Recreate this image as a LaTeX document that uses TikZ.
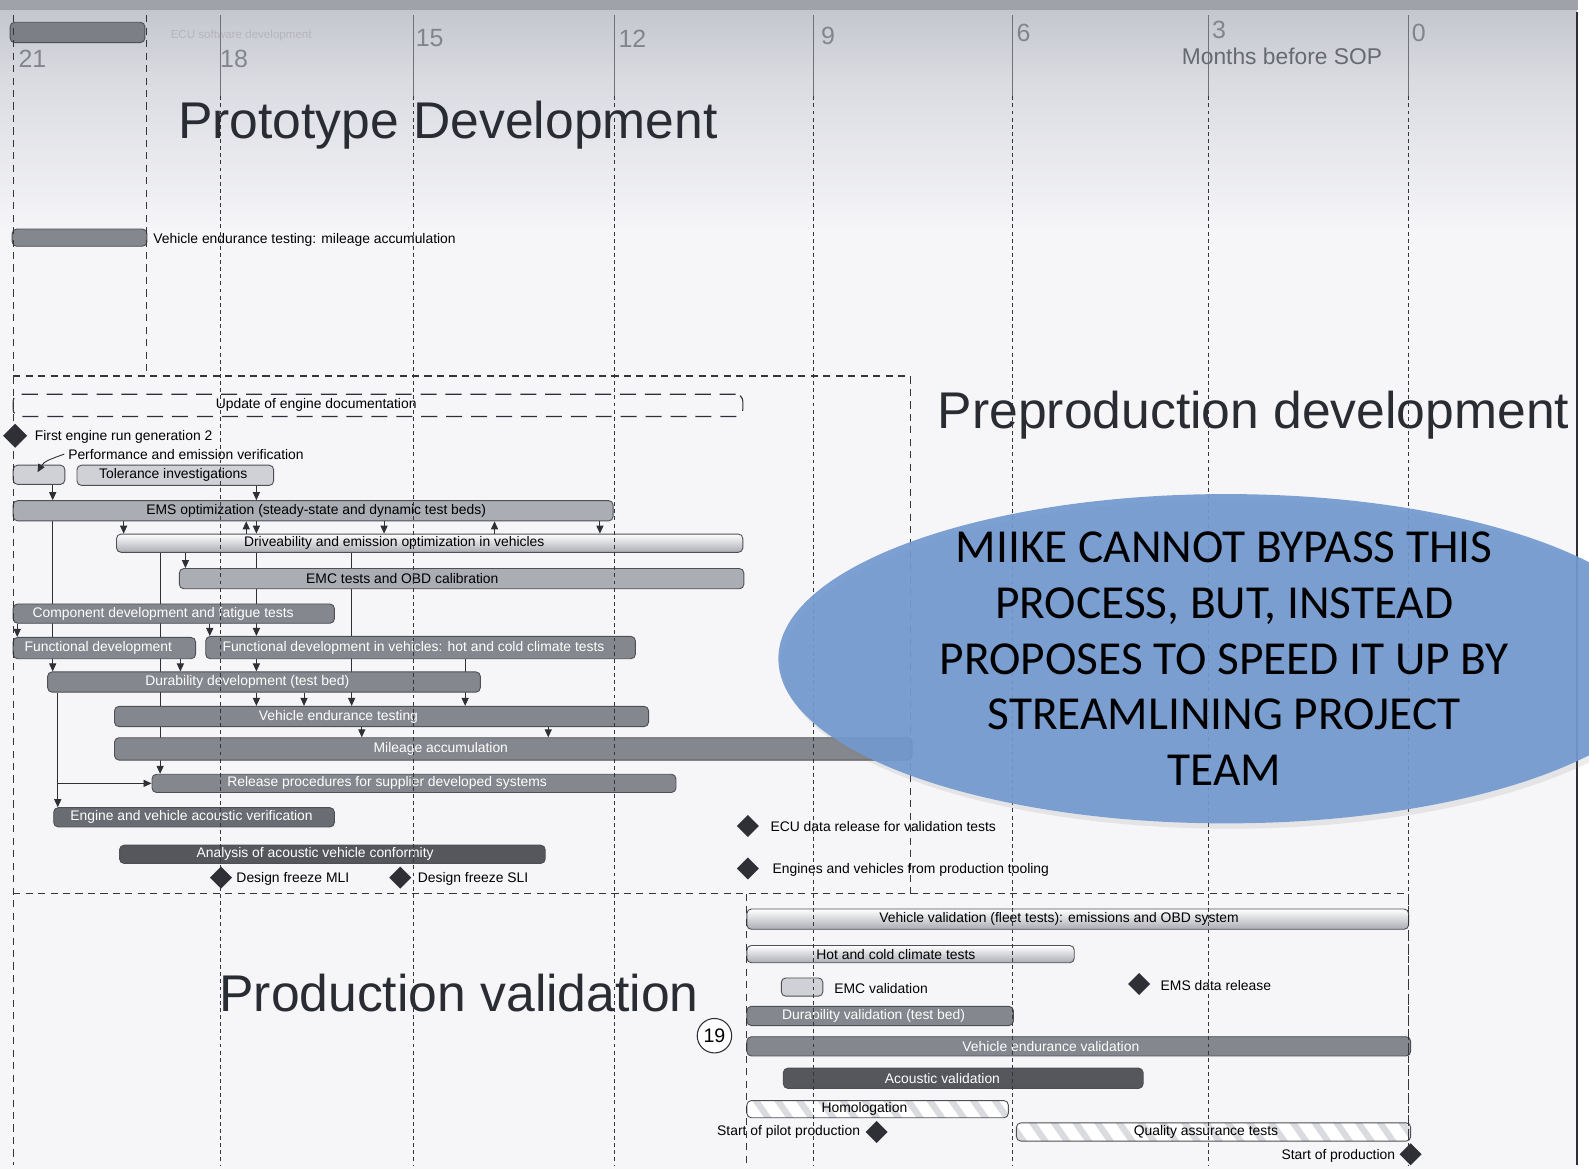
\documentclass[tikz,border=0pt]{standalone}
\usepackage{fontspec}
\setmainfont{Liberation Sans}
\newfontfamily\calloutfont{Carlito}
\usepackage{tikz}
\usetikzlibrary{shapes.geometric,arrows.meta,patterns.meta,shadows}
\definecolor{inkgray}{HTML}{2E3036}
\definecolor{gridgray}{HTML}{34363C}
\definecolor{pagewhite}{HTML}{F6F6F9}
\definecolor{headgray}{HTML}{C4C6CE}
\definecolor{topgray}{HTML}{A0A2AA}
\definecolor{numgray}{HTML}{82858D}
\definecolor{titlegray}{HTML}{2A2C33}
\definecolor{lightbar}{HTML}{D0D1D6}
\definecolor{midbar}{HTML}{ABADB4}
\definecolor{darkbar}{HTML}{85878E}
\definecolor{deepbar}{HTML}{6A6C73}
\definecolor{blackbar}{HTML}{55575D}
\definecolor{hatchgray}{HTML}{DADBDF}
\definecolor{noteblue}{HTML}{7399CF}

\pgfdeclarelayer{back}
\pgfdeclarelayer{links}
\pgfdeclarelayer{grid}
\pgfdeclarelayer{top}
\pgfsetlayers{back,links,main,grid,top}

% one bar of the plan: style, name, x from, x to, y from, y to, label x, label colour, label
\newcommand{\ganttbar}[9]{%
  \pgfmathsetmacro{\barwd}{(#4-#3)*0.02}%
  \pgfmathsetmacro{\barht}{(#6-#5)*0.02}%
  \node[#1, minimum width=\barwd cm, minimum height=\barht cm] (#2) at ({(#3+#4)/2},{(#5+#6)/2}) {};%
  \node[barlbl, text=#8] (#2-t) at (#7,{(#5+#6)/2}) {#9};%
}

\tikzset{
  barbase/.style={rounded corners=2.5pt, draw=inkgray!85, line width=0.5pt, inner sep=0pt},
  ltbar/.style={barbase, fill=lightbar},
  mdbar/.style={barbase, fill=midbar},
  dkbar/.style={barbase, fill=darkbar},
  deepbar/.style={barbase, fill=deepbar},
  blkbar/.style={barbase, fill=blackbar},
  gradbar/.style={barbase, top color=white, bottom color=midbar},
  hatchbar/.style={barbase, preaction={fill=white}, pattern={Lines[angle=-55,distance=10pt,line width=3.5pt]}, pattern color=hatchgray},
  docbox/.style={rounded corners=4pt, draw=inkgray, line width=0.6pt, dash pattern=on 9pt off 5pt, inner sep=0pt},
  barlbl/.style={font=\fontsize{7.8}{9}\selectfont, inner sep=0pt},
  lbl/.style={font=\fontsize{7.8}{9}\selectfont, text=black, inner sep=0pt, yshift=-0.6pt},
  milestone/.style={diamond, fill=inkgray, inner sep=0pt, minimum width=0.44cm, minimum height=0.44cm},
  flow/.style={draw=inkgray, line width=0.5pt, -{Triangle[length=4.5pt,width=4pt]}},
  gridline/.style={gridgray, line width=0.45pt, dash pattern=on 2.2pt off 1.8pt},
  boxline/.style={gridgray, line width=0.6pt, dash pattern=on 4pt off 3pt},
  phasetitle/.style={font=\fontsize{29}{34}\selectfont, text=titlegray, inner sep=0pt},
  monthnum/.style={font=\fontsize{14}{16}\selectfont, text=numgray, inner sep=0pt},
  notetext/.style={font=\calloutfont\fontsize{26.6}{31.3}\selectfont, align=center, text=black, inner sep=0pt},
}

\begin{document}
\begin{tikzpicture}[x=0.02cm, y=-0.02cm]
\useasboundingbox (0,0) rectangle (1568,1154);

% page
\begin{pgfonlayer}{back}
\fill[pagewhite] (0,0) rectangle (1568,1154);
\shade[top color=headgray, bottom color=headgray!55!pagewhite] (0,8) rectangle (1556,80);
\shade[top color=headgray!55!pagewhite, bottom color=pagewhite] (0,80) rectangle (1556,230);
\fill[topgray] (0,0) rectangle (1568,10);
\fill[white] (1557,0) rectangle (1568,1154);
\fill[deepbar, fill opacity=0.8] (10,22) rectangle (143,42);
\draw[inkgray, line width=0.8pt] (1556,12) -- (1556,1150);
\end{pgfonlayer}

% months
\foreach \m/\mx/\my in {21/32/58, 18/231/58, 15/424/38, 12/624/38, 9/817/35, 6/1010/32, 3/1203/30, 0/1400/32}
  \node[monthnum] (m\m) at (\mx,\my) {\m};
\node[font=\fontsize{12.8}{15}\selectfont, text=numgray!80!black, inner sep=0pt] (sophead) at (1265,56) {Months before SOP};
\node[font=\fontsize{6.5}{8}\selectfont, text=numgray!60, inner sep=0pt] (ecusw) at (238,35) {ECU software development};

\node[phasetitle] (proto) at (442,123) {Prototype Development};
\node[phasetitle] (preprod) at (1237,410) {Preproduction development};
\node[phasetitle] (prodval) at (453,980) {Production validation};

% prototype
\ganttbar{dkbar}{vetop}{12}{145}{226}{243}{78}{black}{}
\node[lbl, anchor=west] (vetop-l) at (151,236) {Vehicle endurance testing: mileage accumulation};

% preproduction
\ganttbar{docbox}{docu}{13}{733}{389}{411}{312}{black}{Update of engine documentation}
\node[milestone, minimum width=0.48cm, minimum height=0.48cm] (fer) at (15,430) {};
\node[lbl, anchor=west] (fer-l) at (34,430) {First engine run generation 2};
\node[lbl, anchor=west] (perf-l) at (67,447) {Performance and emission verification};
\ganttbar{ltbar}{perfbox}{13}{64}{459}{478}{38}{black}{}
\ganttbar{ltbar}{tol}{76}{270}{459}{479}{171}{black}{Tolerance investigations}
\ganttbar{mdbar}{ems}{13}{605}{494}{514}{312}{black}{EMS optimization (steady-state and dynamic test beds)}
\ganttbar{gradbar}{drive}{115}{733}{527}{545}{389}{black}{Driveability and emission optimization in vehicles}
\ganttbar{mdbar}{emc}{177}{734}{561}{581}{397}{black}{EMC tests and OBD calibration}
\ganttbar{dkbar}{comp}{13}{330}{596}{615}{161}{white}{Component development and fatigue tests}
\ganttbar{dkbar}{fdev}{13}{193}{629}{650}{97}{white}{Functional development}
\ganttbar{dkbar}{fveh}{203}{627}{628}{650}{408}{white}{Functional development in vehicles: hot and cold climate tests}
\ganttbar{dkbar}{dura}{47}{474}{663}{683}{244}{white}{Durability development (test bed)}
\ganttbar{dkbar}{vend}{113}{640}{697}{717}{334}{white}{Vehicle endurance testing}
\ganttbar{dkbar}{mile}{113}{900}{728}{750}{435}{white}{Mileage accumulation}
\ganttbar{dkbar}{rel}{150}{667}{764}{782}{382}{white}{Release procedures for supplier developed systems}
\ganttbar{deepbar}{acver}{53}{330}{797}{816}{189}{white}{Engine and vehicle acoustic verification}
\ganttbar{blkbar}{acana}{118}{538}{834}{852}{311}{white}{Analysis of acoustic vehicle conformity}
\node[milestone] (dfm) at (218,866) {};
\node[lbl, anchor=west] (dfm-l) at (233,866) {Design freeze MLI};
\node[milestone] (dfs) at (395,866) {};
\node[lbl, anchor=west] (dfs-l) at (412,866) {Design freeze SLI};
\node[milestone] (ecu) at (738,815) {};
\node[lbl, anchor=west] (ecu-l) at (760,815) {ECU data release for validation tests};
\node[milestone] (eng) at (738,857) {};
\node[lbl, anchor=west] (eng-l) at (762,857) {Engines and vehicles from production tooling};

% production validation
\ganttbar{gradbar}{vval}{737}{1390}{897}{917}{1045}{black}{Vehicle validation (fleet tests): emissions and OBD system}
\ganttbar{gradbar}{hotc}{737}{1060}{933}{950}{884}{black}{Hot and cold climate tests}
\ganttbar{ltbar}{emcv}{771}{812}{965}{983}{791}{black}{}
\node[lbl, anchor=west] (emcv-l) at (823,974) {EMC validation};
\node[milestone] (emsd) at (1124,971) {};
\node[lbl, anchor=west] (emsd-l) at (1145,971) {EMS data release};
\ganttbar{dkbar}{durv}{737}{1000}{993}{1012}{862}{white}{Durability validation (test bed)}
\node[circle, draw=inkgray, line width=0.6pt, fill=white, minimum size=0.68cm, inner sep=0pt, font=\fontsize{11}{13}\selectfont] (nineteen) at (705,1022) {19};
\ganttbar{dkbar}{vendv}{737}{1392}{1023}{1042}{1037}{white}{Vehicle endurance validation}
\ganttbar{blkbar}{acv}{773}{1128}{1054}{1074}{930}{white}{Acoustic validation}
\ganttbar{hatchbar}{homol}{737}{995}{1086}{1103}{853}{black}{Homologation}
\node[milestone] (spp) at (865,1117) {};
\node[lbl, anchor=east] (spp-l) at (849,1116) {Start of pilot production};
\ganttbar{hatchbar}{qat}{1003}{1392}{1108}{1126}{1190}{black}{Quality assurance tests}
\node[milestone] (sop) at (1392,1139) {};
\node[lbl, anchor=east] (sop-l) at (1377,1140) {Start of production};

% dependencies
\begin{pgfonlayer}{links}
\draw[flow] (52,0 |- perfbox.south) -- (52,0 |- ems.north);
\draw[flow] (253,0 |- tol.south) -- (253,0 |- ems.north);
\foreach \lx in {122,253,379,592}
  \draw[flow] (\lx,0 |- ems.south) -- (\lx,0 |- drive.north);
\foreach \lx in {243,488}
  \draw[flow] (\lx,0 |- drive.north) -- (\lx,0 |- ems.south);
\draw[flow] (52,0 |- ems.south) -- (52,0 |- dura.north);
\draw[flow] (183,0 |- drive.south) -- (183,0 |- emc.north);
\draw[flow] (158,0 |- drive.south) -- (158,0 |- rel.north);
\draw[flow] (347,0 |- drive.south) -- (347,0 |- vend.north);
\draw[flow] (253,0 |- drive.south) -- (253,0 |- fveh.north);
\draw[flow] (17,0 |- comp.south) -- (17,0 |- fdev.north);
\draw[flow] (207,0 |- comp.south) -- (207,0 |- fveh.north);
\draw[flow] (178,0 |- fdev.south) -- (178,0 |- dura.north);
\draw[flow] (253,0 |- fveh.south) -- (253,0 |- dura.north);
\draw[flow] (459,0 |- fveh.south) -- (459,0 |- vend.north);
\foreach \lx in {253,300}
  \draw[flow] (\lx,0 |- dura.south) -- (\lx,0 |- vend.north);
\foreach \lx in {357,541}
  \draw[flow] (\lx,0 |- vend.south) -- (\lx,0 |- mile.north);
\draw[flow] (57,0 |- dura.south) -- (57,0 |- acver.north);
\draw[flow] (57,0 |- rel.west) -- (rel.west);
\end{pgfonlayer}

% month lines and phase boxes
\begin{pgfonlayer}{grid}
\coordinate (perftip) at (37,466);
\draw[flow] ([xshift=-2pt]perf-l.west) to[out=200,in=60] (perftip);
\foreach \gx in {217,408,606,803,999,1192,1390} {
  \draw[gridgray!70, line width=0.4pt] (\gx,15) -- (\gx,95);
  \draw[gridline] (\gx,95) -- (\gx,1150);
}
\draw[boxline] (13,15) -- (13,1150);
\draw[boxline] (145,15) -- (145,371);
\draw[boxline] (13,371) -- (898,371) -- (898,882);
\draw[boxline] (13,882) -- (1390,882);
\draw[boxline] (737,882) -- (737,1150);
\draw[boxline] (1390,882) -- (1390,1150);
\end{pgfonlayer}

% note
\begin{pgfonlayer}{top}
\node[ellipse, fill=noteblue, fill opacity=0.92, minimum width=17.68cm, minimum height=6.5cm,
  drop shadow={opacity=0.15, shadow xshift=2pt, shadow yshift=-3pt}] (note) at (1210,650) {};
\node[notetext] (note-t) at (1208,650) {MIIKE CANNOT BYPASS THIS\\PROCESS, BUT, INSTEAD\\PROPOSES TO SPEED IT UP BY\\STREAMLINING PROJECT\\TEAM};
\end{pgfonlayer}
\end{tikzpicture}
\end{document}
